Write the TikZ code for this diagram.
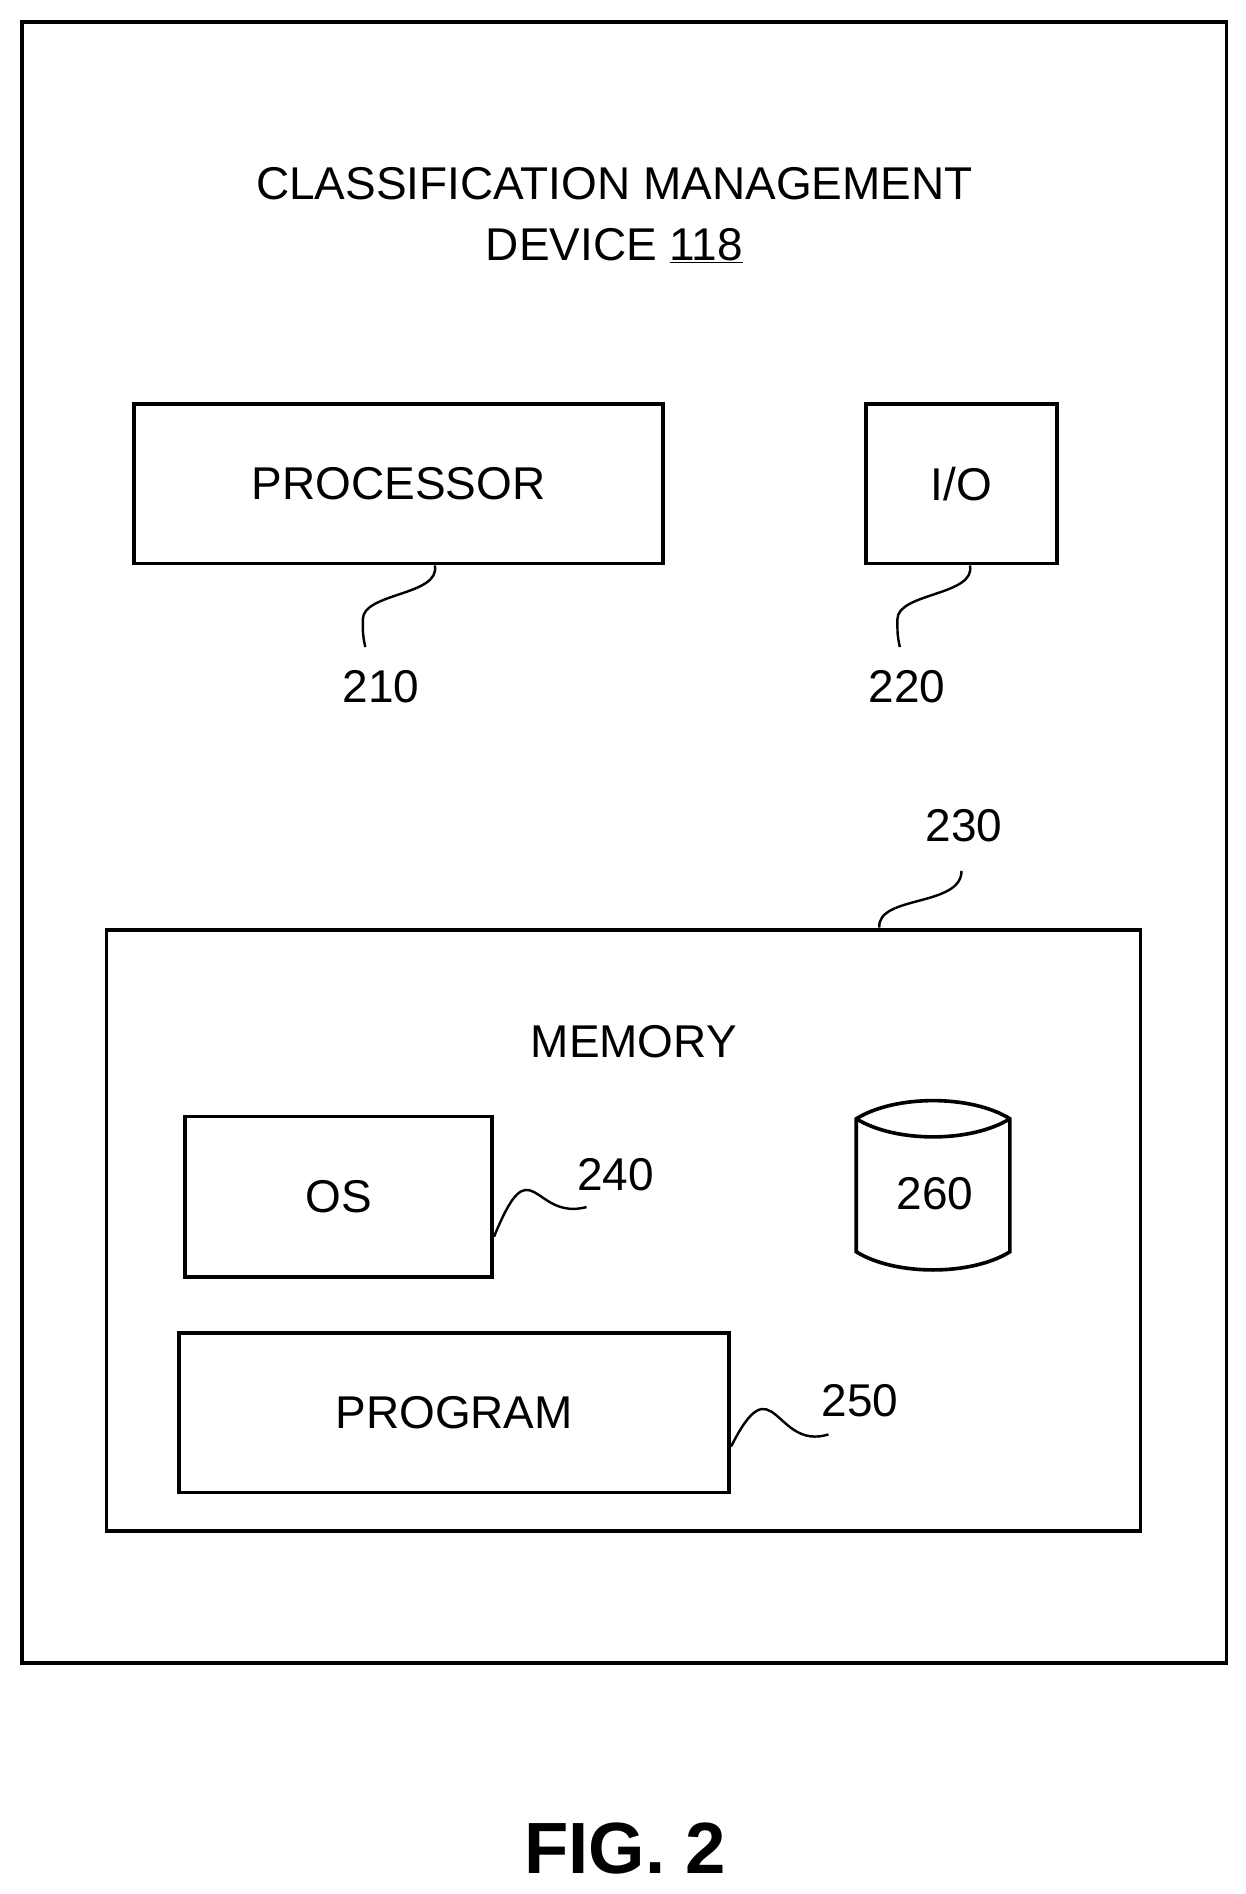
\documentclass[tikz,border=0pt]{standalone}
\usepackage{fontspec}
\setmainfont{Liberation Sans}
\begin{document}
\begin{tikzpicture}[x=1pt,y=-1pt,
 box/.style={draw,line width=3pt,inner sep=0pt,font=\fontsize{38}{44}\selectfont},
 lbl/.style={font=\fontsize{38}{44}\selectfont,inner sep=0pt},
 sq/.style={line width=2pt}]
\useasboundingbox (0,0) rectangle (1030,1566);
\draw[line width=3pt] (18,18) rectangle (1014,1375);
\node[lbl,align=center] (title) at (508,178) {CLASSIFICATION MANAGEMENT\\[6pt]DEVICE \underline{118}};
\node[box,minimum width=437pt,minimum height=132pt] (proc) at (329.5,400) {PROCESSOR};
\node[box,minimum width=158pt,minimum height=132pt] (io) at (795,400) {I/O};
\node[lbl] (l210) at (315,568) {210};
\node[lbl] (l220) at (750,568) {220};
\draw[sq] ([xshift=30pt]proc.south) .. controls +(5,25) and (300,490) .. (300,512) .. controls (300,525) .. (302,535);
\draw[sq] ([xshift=7pt]io.south) .. controls +(5,25) and (742,490) .. (742,512) .. controls (742,525) .. (744,535);
\node[box,minimum width=855pt,minimum height=497pt] (mem) at (515.5,1017.5) {};
\node[lbl] (l230) at (797,683) {230};
\draw[sq] (727,767) .. controls (725,740) and (795,750) .. (795,720);
\node[lbl] (memt) at (524,861) {MEMORY};
\node[box,minimum width=254pt,minimum height=133pt] (os) at (280,989.5) {OS};
\node[lbl] (l240) at (509,971) {240};
\draw[sq] ([yshift=-33pt]os.east) .. controls (440,945) and (440,1010) .. (485,998);
\node[box,minimum width=455pt,minimum height=132pt] (prog) at (375.5,1168) {PROGRAM};
\node[lbl] (l250) at (711,1158) {250};
\draw[sq] ([yshift=-28pt]prog.east) .. controls (640,1125) and (640,1200) .. (685,1186);
\draw[line width=3pt] (708,925) .. controls (740,905) and (803,905) .. (835,925) -- (835,1035) .. controls (803,1055) and (740,1055) .. (708,1035) -- cycle;
\draw[line width=3pt] (708,925) .. controls (740,945) and (803,945) .. (835,925);
\node[lbl] (l260) at (773,987) {260};
\node[font=\fontsize{60}{70}\selectfont\bfseries,inner sep=0pt] (fig) at (517,1528) {FIG. 2};
\end{tikzpicture}
\end{document}
